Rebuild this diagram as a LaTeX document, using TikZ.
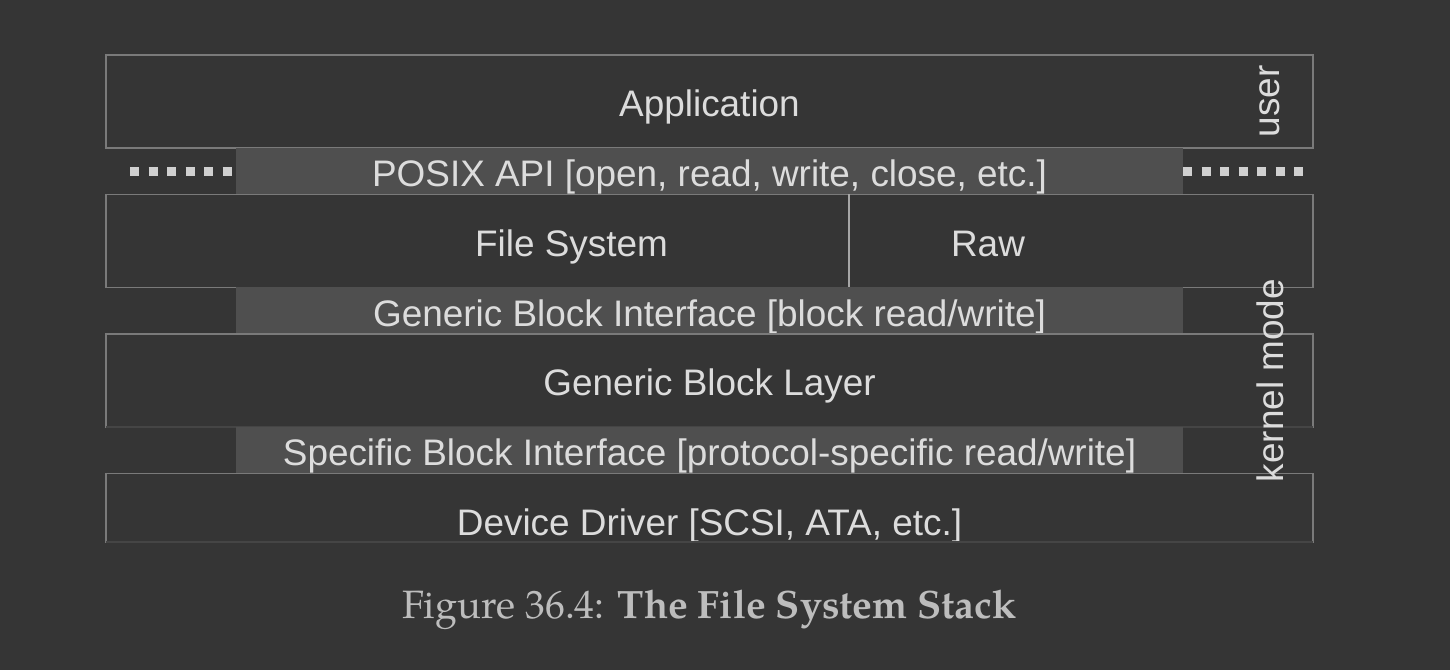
\documentclass[tikz,border=0pt]{standalone}
\usepackage{fontspec}
\usepackage{xcolor}
\usepackage{tikz}
\usetikzlibrary{positioning}
\setmainfont{Liberation Sans}
\newfontfamily\capfont{TeX Gyre Pagella}
\definecolor{bgdark}{HTML}{353535}
\definecolor{bandgray}{HTML}{4F4F4F}
\definecolor{edgegray}{HTML}{7A7A7A}
\definecolor{faintgray}{HTML}{454545}
\definecolor{labelgray}{HTML}{DCDCDC}
\definecolor{dotgray}{HTML}{D0D0D0}
\definecolor{capgray}{HTML}{BDBDBD}
\tikzset{layer/.style={draw=edgegray,line width=0.03cm,fill=bgdark,text=labelgray,minimum width=24.14cm,minimum height=1.86cm,inner sep=0pt,outer sep=0pt,text height=0.62cm,text depth=0pt,font=\fontsize{21}{25}\selectfont},
band/.style={fill=bandgray,text=labelgray,minimum width=18.94cm,minimum height=0.93cm,inner sep=0pt,outer sep=0pt,text height=0.62cm,text depth=0pt,font=\fontsize{21}{25}\selectfont},
dots/.style={draw=dotgray,line width=0.18cm,dash pattern=on 0.18cm off 0.19cm},
faint edge/.style={draw=faintgray,line width=0.03cm},
divider/.style={draw=gray!70!white,line width=0.04cm},
side label/.style={rotate=90,text=labelgray,inner sep=0pt,font=\fontsize{21}{25}\selectfont},}

\begin{document}
\begin{tikzpicture}
    \fill[bgdark] (0,0) rectangle (29,-13.4);
    \useasboundingbox (0,0) rectangle (29,-13.4);

    \node[layer] (app) at (14.19,-2.03) {Application};
    \node[band] (posix) [below=0pt of app] {POSIX API [open, read, write, close, etc.]};

    \node[layer,minimum width=14.86cm,anchor=north west] (fs) at (app.south west |- posix.south) {\hspace*{3.76cm}File System};
    \node[layer,minimum width=9.28cm] (raw) [right=0pt of fs] {Raw\hspace*{3.72cm}};
    \draw[divider] (fs.north east) -- (fs.south east);

    \node[band,anchor=north] (gbi) at (posix |- fs.south) {Generic Block Interface [block read/write]};
    \node[layer] (gbl) [below=0pt of gbi] {Generic Block Layer};
    \draw[faint edge] (gbl.south west) -- (gbl.south east);
    \node[band] (sbi) [below=0pt of gbl] {Specific Block Interface [protocol-specific read/write]};

    \begin{scope}
    \clip (0,0) rectangle (29,-10.84);
    \node[layer] (dd) [below=0pt of sbi] {Device Driver [SCSI, ATA, etc.]};
    \end{scope}
    \coordinate (ddL) at (dd.west |- 0,-10.84);
    \coordinate (ddR) at (dd.east |- 0,-10.84);
    \draw[faint edge] (ddL) -- (ddR);

    % user / kernel boundary
    \coordinate (dotsLa) at ([xshift=-2.12cm]posix.west);
    \coordinate (dotsLb) at ([xshift=-0.08cm]posix.west);
    \coordinate (dotsRa) at (posix.east);
    \coordinate (dotsRb) at ([xshift=2.4cm]posix.east);
    \draw[dots] (dotsLa) -- (dotsLb);
    \draw[dots] (dotsRa) -- (dotsRb);

    \node[side label] (user) at ([xshift=-0.86cm]app.east) {user};
    \node[side label] (kernel) at ([xshift=-0.86cm]gbl.east) {kernel mode};

    \node[anchor=base,text=capgray,font=\capfont\fontsize{22.5}{27}\selectfont] (caption) at (14.19,-12.36) {Figure 36.4: \textbf{The File System Stack}};
\end{tikzpicture}
\end{document}
